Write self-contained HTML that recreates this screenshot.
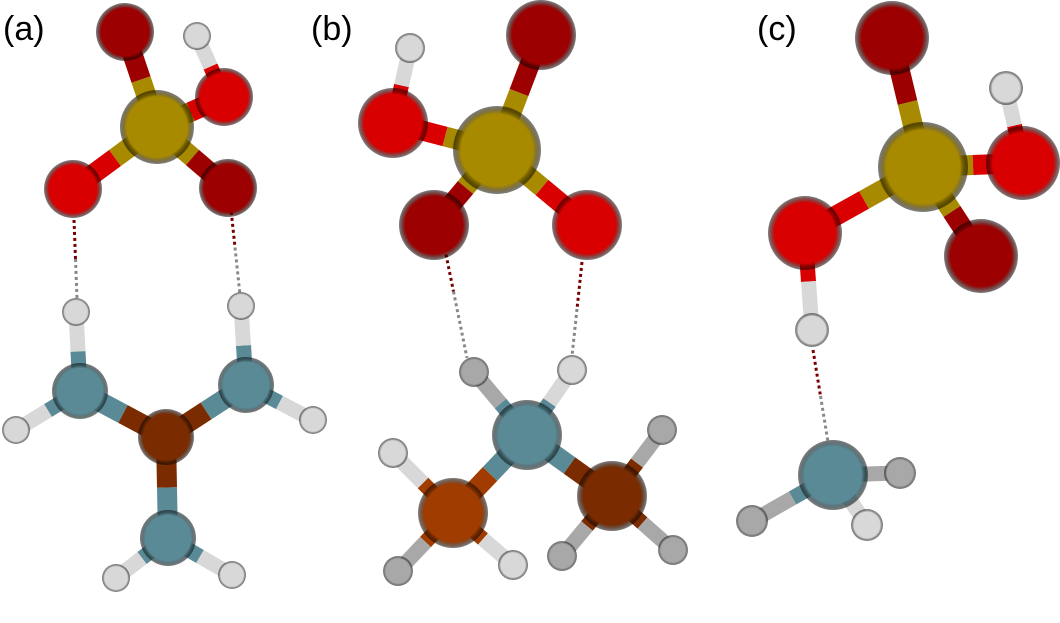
<!DOCTYPE html>
<html><head><style>
html,body{margin:0;padding:0;background:#fff;width:1060px;height:623px;overflow:hidden}
.l{position:absolute;font-family:"Liberation Sans",sans-serif;font-size:34px;color:#000;top:10px}
</style></head><body>
<div class="l" style="left:3px">(a)</div>
<div class="l" style="left:311px">(b)</div>
<div class="l" style="left:757px">(c)</div>
<svg id="s" width="1060" height="623" style="position:absolute;left:0;top:0"></svg>
<script>
var C={O:'#d80000',Od:'#9c0000',S:'#a88a00',N:'#5a8a96',B:'#a03c00',Bd:'#7a2c00',H:'#d8d8d8',Hg:'#a8a8a8'};
var atoms={
a1:[125,32,29,'Od'],a2:[197,36,14,'H'],a3:[224,97,29,'O'],a4:[157,127,37,'S'],a5:[73,189,29,'O'],a6:[228,188,29,'Od'],
a7:[76,312,14,'H'],a8:[80,391,28,'N'],a9:[16,430,14,'H'],a10:[246,385,28,'N'],a11:[313,420,14,'H'],a12:[241,306,14,'H'],
a13:[166,437,28,'Bd'],a14:[168,538,28,'N'],a15:[116,578,14,'H'],a16:[232,575,14,'H'],
b1:[541,35,35,'Od'],b2:[497,150,44,'S'],b3:[393,123,35,'O'],b4:[410,48,15,'H'],b5:[434,225,35,'Od'],b6:[587,225,35,'O'],
b7:[474,372,15,'Hg'],b8:[572,370,15,'H'],b9:[527,435,35,'N'],b10:[453,513,35,'B'],b11:[612,496,35,'Bd'],
b12:[393,453,15,'H'],b13:[513,565,15,'H'],b14:[398,571,15,'Hg'],b15:[662,430,15,'Hg'],b16:[673,550,15,'Hg'],b17:[562,556,15,'Hg'],
c1:[892,38,37,'Od'],c2:[923,167,45,'S'],c3:[1023,163,37,'O'],c4:[1006,88,17,'H'],c5:[805,233,37,'O'],c6:[981,256,37,'Od'],
c7:[812,330,17,'H'],c8:[833,475,35,'N'],c9:[900,473,16,'Hg'],c10:[752,521,16,'Hg'],c11:[867,525,16,'H']};
var bonds=[['a4','a1'],['a3','a2'],['a4','a3'],['a4','a5'],['a4','a6'],['a7','a8'],['a8','a9'],['a8','a13'],['a10','a13'],['a10','a11'],['a10','a12'],['a13','a14'],['a14','a15'],['a14','a16'],
['b2','b1'],['b2','b3'],['b3','b4'],['b2','b5'],['b2','b6'],['b9','b7'],['b9','b8'],['b9','b10'],['b9','b11'],['b10','b12'],['b10','b13'],['b10','b14'],['b11','b15'],['b11','b16'],['b11','b17'],
['c2','c1'],['c2','c3'],['c3','c4'],['c2','c5'],['c2','c6'],['c5','c7'],['c8','c9'],['c8','c10'],['c8','c11']];
var dots=[[74,220,77,298],[230,200,240,295],[440,225,467,358],[582,262,572,356],[813,350,828,442]];
var h='<defs>';
for(var k in C){h+='<radialGradient id="g'+k+'" cx="0.5" cy="0.5" r="0.5"><stop offset="0" stop-color="'+C[k]+'"/><stop offset="0.82" stop-color="'+C[k]+'"/><stop offset="1" stop-color="#000" stop-opacity="0.5"/></radialGradient>';}
h+='</defs>';
bonds.forEach(function(b){var A=atoms[b[0]],B=atoms[b[1]];var mx=(A[0]+B[0])/2,my=(A[1]+B[1])/2;var w=(A[3][0]=='H'||B[3][0]=='H')?15:20;
h+='<line x1="'+A[0]+'" y1="'+A[1]+'" x2="'+mx+'" y2="'+my+'" stroke="'+C[A[3]]+'" stroke-width="'+w+'"/>';
h+='<line x1="'+mx+'" y1="'+my+'" x2="'+B[0]+'" y2="'+B[1]+'" stroke="'+C[B[3]]+'" stroke-width="'+w+'"/>';});
dots.forEach(function(d){var mx=(d[0]+d[2])/2,my=(d[1]+d[3])/2;
h+='<line x1="'+d[0]+'" y1="'+d[1]+'" x2="'+mx+'" y2="'+my+'" stroke="#7a0000" stroke-width="3" stroke-dasharray="3,3"/>';
h+='<line x1="'+mx+'" y1="'+my+'" x2="'+d[2]+'" y2="'+d[3]+'" stroke="#888" stroke-width="3" stroke-dasharray="3,3"/>';});
for(var k in atoms){var a=atoms[k];h+='<circle cx="'+a[0]+'" cy="'+a[1]+'" r="'+a[2]+'" fill="url(#g'+a[3]+')"/>';}
document.getElementById('s').innerHTML=h;
</script>
</body></html>
